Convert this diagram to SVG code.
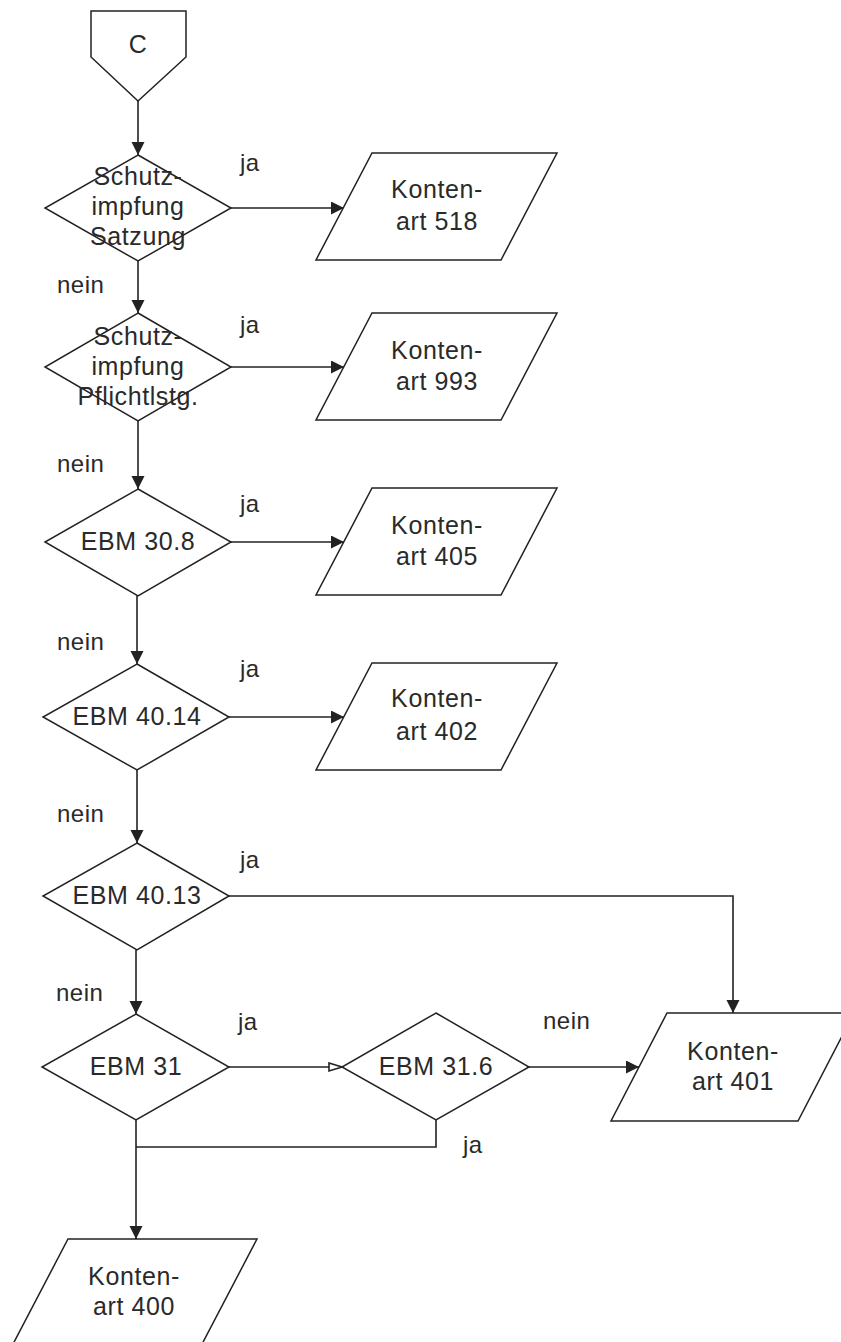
<svg xmlns="http://www.w3.org/2000/svg" width="841" height="1342" viewBox="0 0 841 1342">
<style>
.s{fill:#fff;stroke:#222;stroke-width:1.5;stroke-linejoin:miter}
.c{fill:none;stroke:#222;stroke-width:1.6}
.t{font-family:"Liberation Sans",Arial,sans-serif;font-size:25px;letter-spacing:0.6px;fill:#2a2a2a;text-anchor:middle}
.l{font-family:"Liberation Sans",Arial,sans-serif;font-size:24px;letter-spacing:0.5px;fill:#2a2a2a}
</style>
<defs>
<marker id="a" markerUnits="userSpaceOnUse" markerWidth="15" markerHeight="14" refX="13" refY="6.5" orient="auto">
<path d="M0,0 L13,6.5 L0,13 z" fill="#222"/>
</marker>
<marker id="o" markerUnits="userSpaceOnUse" markerWidth="16" markerHeight="12" refX="14" refY="5" orient="auto">
<path d="M1,1 L14,5 L1,9 z" fill="#fff" stroke="#222" stroke-width="1.6"/>
</marker>
</defs>
<rect width="841" height="1342" fill="#fff"/>

<g id="connectors">
<line class="c" x1="138" y1="101" x2="138" y2="155" marker-end="url(#a)"/>
<line class="c" x1="231" y1="208" x2="344" y2="208" marker-end="url(#a)"/>
<line class="c" x1="138" y1="261" x2="138" y2="313" marker-end="url(#a)"/>
<line class="c" x1="231" y1="367" x2="344" y2="367" marker-end="url(#a)"/>
<line class="c" x1="138" y1="421" x2="138" y2="489" marker-end="url(#a)"/>
<line class="c" x1="231" y1="542" x2="344" y2="542" marker-end="url(#a)"/>
<line class="c" x1="137" y1="596" x2="137" y2="664" marker-end="url(#a)"/>
<line class="c" x1="229" y1="717" x2="344" y2="717" marker-end="url(#a)"/>
<line class="c" x1="137" y1="770" x2="137" y2="843" marker-end="url(#a)"/>
<polyline class="c" points="229,896 733,896 733,1013" marker-end="url(#a)"/>
<line class="c" x1="136" y1="950" x2="136" y2="1014" marker-end="url(#a)"/>
<line class="c" x1="229" y1="1067" x2="342" y2="1067" marker-end="url(#o)"/>
<line class="c" x1="529" y1="1067" x2="639" y2="1067" marker-end="url(#a)"/>
<polyline class="c" points="436,1120 436,1147 136,1147"/>
<line class="c" x1="136" y1="1120" x2="136" y2="1239" marker-end="url(#a)"/>
</g>

<g id="labels">
<text class="l" x="240" y="171">ja</text>
<text class="l" x="57" y="293">nein</text>
<text class="l" x="240" y="333">ja</text>
<text class="l" x="57" y="472">nein</text>
<text class="l" x="240" y="512">ja</text>
<text class="l" x="57" y="650">nein</text>
<text class="l" x="240" y="677">ja</text>
<text class="l" x="57" y="822">nein</text>
<text class="l" x="240" y="868">ja</text>
<text class="l" x="56" y="1001">nein</text>
<text class="l" x="238" y="1030">ja</text>
<text class="l" x="543" y="1029">nein</text>
<text class="l" x="463" y="1153">ja</text>
</g>

<g id="start">
<polygon class="s" points="91,11 186,11 186,57 138,101 91,57"/>
<text class="t" x="138" y="53">C</text>
</g>

<g id="d1">
<polygon class="s" points="138,155 231,208 138,261 45,208"/>
<text class="t" x="138" y="185">Schutz-</text>
<text class="t" x="138" y="215">impfung</text>
<text class="t" x="138" y="245">Satzung</text>
</g>
<g id="k518">
<polygon class="s" points="372,153 557,153 501,260 316,260"/>
<text class="t" x="437" y="198">Konten-</text>
<text class="t" x="437" y="230">art 518</text>
</g>

<g id="d2">
<polygon class="s" points="138,313 231,367 138,421 45,367"/>
<text class="t" x="138" y="345">Schutz-</text>
<text class="t" x="138" y="375">impfung</text>
<text class="t" x="138" y="405">Pflichtlstg.</text>
</g>
<g id="k993">
<polygon class="s" points="372,313 557,313 501,420 316,420"/>
<text class="t" x="437" y="359">Konten-</text>
<text class="t" x="437" y="390">art 993</text>
</g>

<g id="d3">
<polygon class="s" points="138,489 231,542 138,596 45,542"/>
<text class="t" x="138" y="550">EBM 30.8</text>
</g>
<g id="k405">
<polygon class="s" points="372,488 557,488 501,595 316,595"/>
<text class="t" x="437" y="534">Konten-</text>
<text class="t" x="437" y="565">art 405</text>
</g>

<g id="d4">
<polygon class="s" points="137,664 229,717 137,770 43,717"/>
<text class="t" x="137" y="725">EBM 40.14</text>
</g>
<g id="k402">
<polygon class="s" points="372,663 557,663 501,770 316,770"/>
<text class="t" x="437" y="707">Konten-</text>
<text class="t" x="437" y="740">art 402</text>
</g>

<g id="d5">
<polygon class="s" points="137,843 229,896 137,950 43,896"/>
<text class="t" x="137" y="904">EBM 40.13</text>
</g>

<g id="d6">
<polygon class="s" points="136,1014 229,1067 136,1120 42,1067"/>
<text class="t" x="136" y="1075">EBM 31</text>
</g>
<g id="d7">
<polygon class="s" points="436,1013 529,1067 436,1120 342,1067"/>
<text class="t" x="436" y="1075">EBM 31.6</text>
</g>

<g id="k401">
<polygon class="s" points="667,1013 854,1013 798,1121 611,1121"/>
<text class="t" x="733" y="1060">Konten-</text>
<text class="t" x="733" y="1090">art 401</text>
</g>

<g id="k400">
<polygon class="s" points="68,1239 257,1239 201,1346 12,1346"/>
<text class="t" x="134" y="1285">Konten-</text>
<text class="t" x="134" y="1315">art 400</text>
</g>
</svg>
